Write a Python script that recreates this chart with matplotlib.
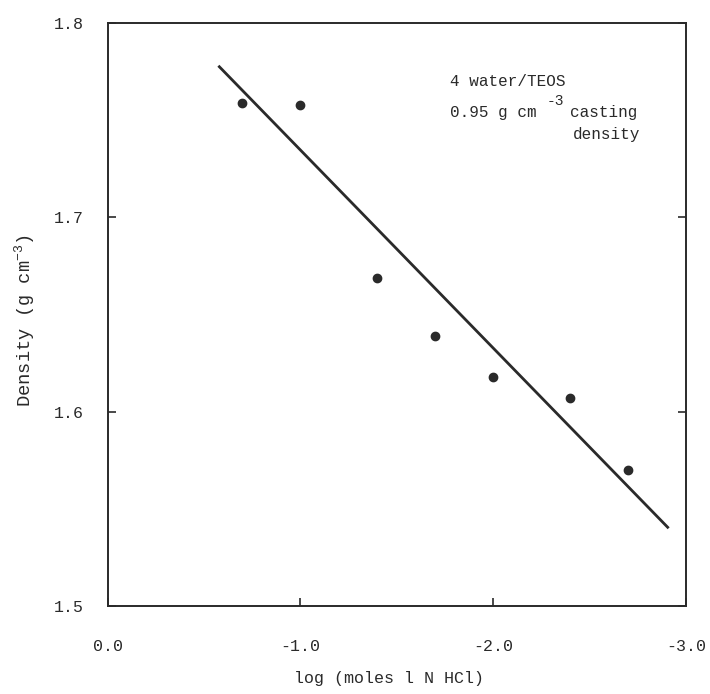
import matplotlib
matplotlib.use("Agg")
import matplotlib.pyplot as plt

plt.rcParams['font.family'] = ['Liberation Mono', 'DejaVu Sans Mono']
plt.rcParams['mathtext.fontset'] = 'custom'
plt.rcParams['mathtext.rm'] = 'Liberation Mono'
plt.rcParams['mathtext.it'] = 'Liberation Mono'

# measured points: log(moles 1 N HCl) vs density
log_hcl = [-0.7, -1.0, -1.4, -1.7, -2.0, -2.4, -2.7]
density = [1.759, 1.758, 1.669, 1.639, 1.618, 1.607, 1.570]

# fitted line end points
fit_x = [-0.575, -2.91]
fit_y = [1.778, 1.540]

x_ticks = [0.0, -1.0, -2.0, -3.0]
x_labels = ['0.0', '-1.0', '-2.0', '-3.0']
y_ticks = [1.5, 1.6, 1.7, 1.8]
y_labels = ['1.5', '1.6', '1.7', '1.8']

ink = '#2a2a2a'

fig = plt.figure(figsize=(7.1, 6.94), dpi=100)
ax = fig.add_axes([107.5 / 710, 88 / 694, 578.5 / 710, 583 / 694])

ax.plot(fit_x, fit_y, color=ink, lw=2.0, solid_capstyle='butt')
ax.plot(log_hcl, density, 'o', color=ink, markersize=6)

ax.set_xlim(0, -3)
ax.set_ylim(1.5, 1.8)

ax.set_xticks(x_ticks)
ax.set_xticklabels(x_labels)
ax.set_yticks(y_ticks)
ax.set_yticklabels(y_labels)

ax.tick_params(axis='x', direction='in', length=6, width=1.2, color=ink,
               pad=24, labelsize=12, labelcolor=ink)
ax.tick_params(axis='y', direction='in', length=6, width=1.2, color=ink,
               pad=17, labelsize=12, labelcolor=ink, right=True)

for s in ax.spines.values():
    s.set_linewidth(1.4)
    s.set_color(ink)

ax.set_xlabel('log (moles l N HCl)', fontsize=12, color=ink)
ax.xaxis.set_label_coords(0.487, -0.112)
ax.set_ylabel('Density (g cm$^{-3}$)', fontsize=13.5, color=ink)
ax.yaxis.set_label_coords(-0.122, 0.49)

# annotation
ax.text(0.592, 0.900, '4 water/TEOS', transform=ax.transAxes,
        fontsize=11.5, color=ink, va='center', ha='left')
ax.text(0.592, 0.847, '0.95 g cm', transform=ax.transAxes,
        fontsize=11.5, color=ink, va='center', ha='left')
ax.text(0.759, 0.866, '-3', transform=ax.transAxes,
        fontsize=10.5, color=ink, va='center', ha='left')
ax.text(0.800, 0.847, 'casting', transform=ax.transAxes,
        fontsize=11.5, color=ink, va='center', ha='left')
ax.text(0.804, 0.808, 'density', transform=ax.transAxes,
        fontsize=11.5, color=ink, va='center', ha='left')

fig.savefig('out.png', dpi=100)
